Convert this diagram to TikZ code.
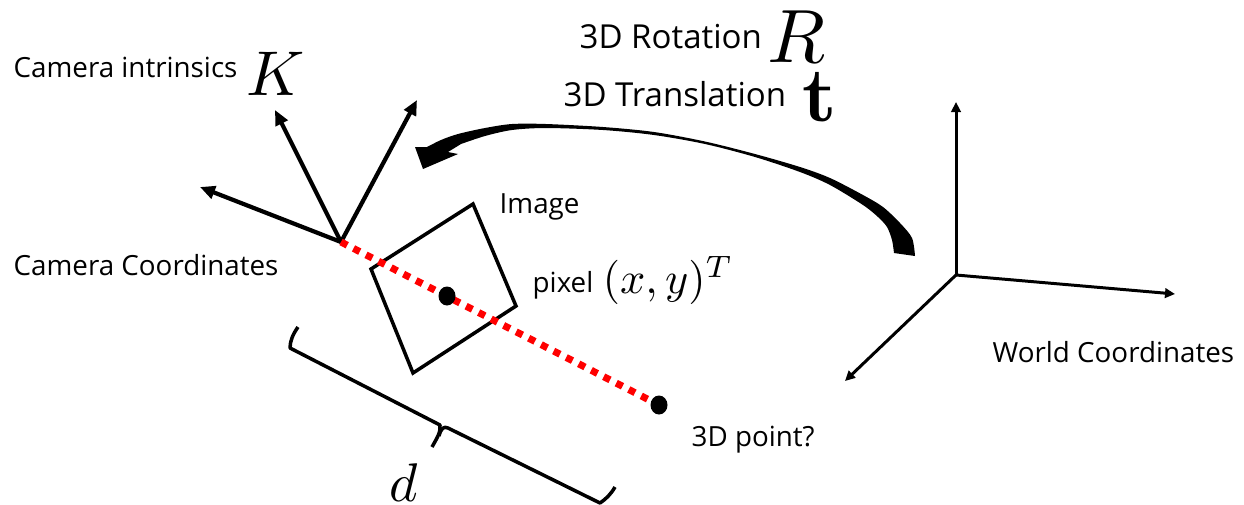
\documentclass[tikz,border=0pt]{standalone}
\usepackage{amsmath,amssymb}
\usepackage[no-math]{fontspec}
\setmainfont{Open Sans}
\usetikzlibrary{arrows.meta,shapes.geometric}
\begin{document}
\begin{tikzpicture}[>={Triangle[length=1.5mm,width=1.3mm]},line cap=butt,
  axisline/.style={->,line width=1.2pt},
  worldline/.style={->,line width=0.85pt,>={Triangle[length=1mm,width=0.95mm]}},
  label/.style={inner sep=0pt,font=\fontsize{7.9}{10}\selectfont},
  toplabel/.style={inner sep=0pt,font=\fontsize{9.4}{12}\selectfont},
  mathlabel/.style={inner sep=0pt},
  dotmark/.style={ellipse,fill=black,inner sep=0pt,minimum width=0.17cm,minimum height=0.19cm}]
\useasboundingbox (0,0) rectangle (12.44,5.04);
% camera axes
\coordinate (camera) at (3.41,2.62);
\coordinate (camx) at (2.00,3.17);
\coordinate (camy) at (2.75,3.94);
\coordinate (camz) at (4.17,4.04);
\draw[axisline] (camera) -- (camx);
\draw[axisline] (camera) -- (camy);
\draw[axisline] (camera) -- (camz);
% image plane
\coordinate (imga) at (4.73,3.00);
\coordinate (imgb) at (5.16,1.98);
\coordinate (imgc) at (4.13,1.31);
\coordinate (imgd) at (3.71,2.35);
\draw[line width=1pt,line join=miter] (imga) -- (imgb) -- (imgc) -- (imgd) -- cycle;
% ray
\coordinate (rayend) at (6.59,0.99);
\draw[red,line width=2pt,dash pattern=on 2pt off 2pt] (camera) -- (rayend);
\node[dotmark] (pixel) at (4.47,2.08) {};
\node[dotmark] (point) at (rayend) {};
% world axes
\coordinate (world) at (9.56,2.29);
\coordinate (worldz) at (9.56,4.02);
\coordinate (worldx) at (11.75,2.10);
\coordinate (worldy) at (8.45,1.23);
\draw[worldline] (world) -- (worldz);
\draw[worldline] (world) -- (worldx);
\draw[worldline] (world) -- (worldy);
% swoosh
\fill plot[smooth] coordinates {(9.15,2.48) (9.12,2.66) (9.00,2.81) (8.83,2.97) (8.63,3.09) (8.30,3.26) (8.00,3.37) (7.55,3.50) (7.05,3.625) (6.54,3.72) (6.03,3.77) (5.46,3.80) (5.12,3.80) (4.85,3.76) (4.58,3.70) (4.41,3.64) (4.27,3.57)}
  -- (4.15,3.57) -- (4.23,3.35) -- (4.58,3.50) -- (4.48,3.52)
  -- plot[smooth] coordinates {(4.61,3.60) (4.85,3.68) (5.12,3.74) (5.46,3.76) (6.03,3.74) (6.54,3.69) (7.05,3.60) (7.55,3.47) (8.00,3.32) (8.30,3.19) (8.63,2.99) (8.78,2.87) (8.87,2.77) (8.92,2.64) (8.94,2.51)} -- cycle;
% bracket
\draw[line width=1pt,line join=round] (2.98,1.77) .. controls (2.93,1.70) and (2.90,1.63) .. (2.90,1.56) -- (4.40,0.79) .. controls (4.41,0.72) and (4.37,0.66) .. (4.32,0.57);
\draw[line width=1pt,line join=round] (4.39,0.68) .. controls (4.41,0.76) and (4.44,0.78) .. (4.48,0.76) -- (6.00,0.01) .. controls (6.06,0.05) and (6.11,0.10) .. (6.15,0.17);
% labels
\node[label,anchor=west] (intrinsics) at (0.13,4.37) {Camera intrinsics};
\node[mathlabel,scale=1.8] (kay) at (2.755,4.30) {$K$};
\node[label,anchor=west] (camlabel) at (0.13,2.39) {Camera Coordinates};
\node[toplabel,anchor=west] (rotation) at (5.79,4.67) {3D Rotation};
\node[mathlabel,scale=2.15] (erre) at (7.965,4.67) {$R$};
\node[toplabel,anchor=west] (translation) at (5.63,4.10) {3D Translation};
\node[mathlabel,scale=2.2] (tee) at (8.195,4.07) {$\mathbf{t}$};
\node[label,anchor=west] (imglabel) at (4.99,2.97) {Image};
\node[label,anchor=west] (pixlabel) at (5.32,2.19) {pixel};
\node[mathlabel,anchor=west,scale=1.26] (pixmath) at (6.02,2.24) {$(x,y)^T$};
\node[label,anchor=west] (worldlabel) at (9.92,1.52) {World Coordinates};
\node[label,anchor=west] (pointlabel) at (6.91,0.64) {3D point?};
\node[mathlabel,scale=1.55] (dee) at (4.04,0.21) {$d$};
\end{tikzpicture}
\end{document}
